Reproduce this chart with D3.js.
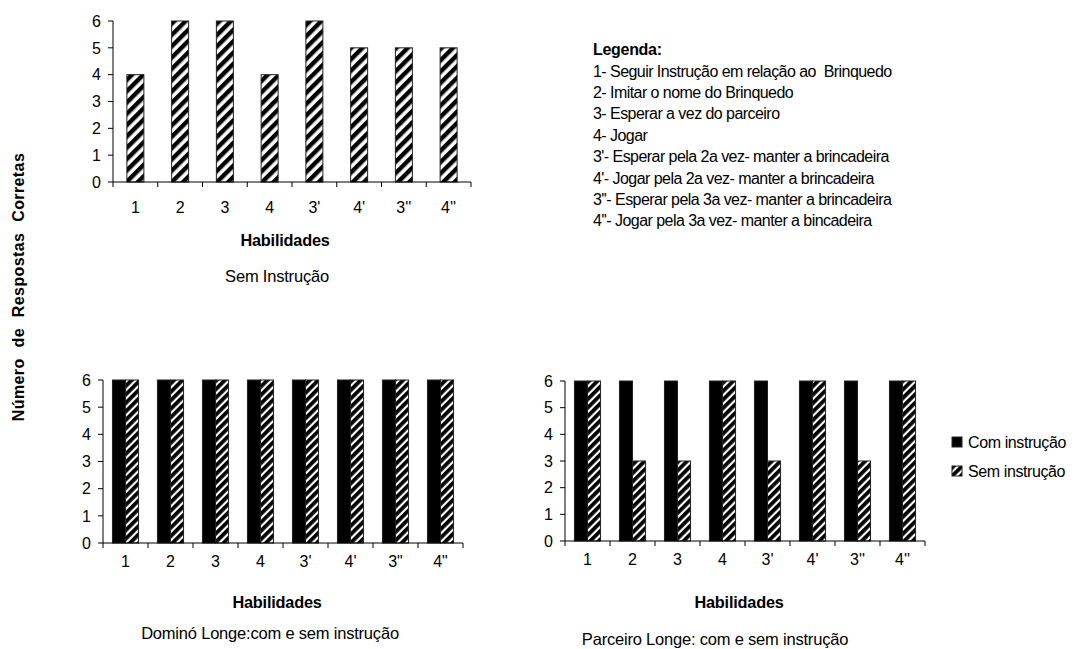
<!DOCTYPE html>
<html><head><meta charset="utf-8">
<script src="https://cdn.jsdelivr.net/npm/d3@7"></script>
<style>
html,body{margin:0;padding:0;background:#fff;}
text{font-family:"Liberation Sans",Arial,sans-serif;fill:#000;}
</style></head>
<body><svg id="c" width="1080" height="649"></svg>
<script>
const categories = ["1","2","3","4","3'","4'","3''","4''"];
const categoriesDomino = ["1","2","3","4","3'","4'","3\"","4\""];
const semInstrucaoTop = [4,6,6,4,6,5,5,5];
const dominoCom = [6,6,6,6,6,6,6,6];
const dominoSem = [6,6,6,6,6,6,6,6];
const parceiroCom = [6,6,6,6,6,6,6,6];
const parceiroSem = [6,3,3,6,3,6,3,6];
const yTicks = [0,1,2,3,4,5,6];
const legendaLines = [
 "1- Seguir Instrução em relação ao  Brinquedo",
 "2- Imitar o nome do Brinquedo",
 "3- Esperar a vez do parceiro",
 "4- Jogar",
 "3'- Esperar pela 2a vez- manter a brincadeira",
 "4'- Jogar pela 2a vez- manter a brincadeira",
 "3''- Esperar pela 3a vez- manter a brincadeira",
 "4''- Jogar pela 3a vez- manter a bincadeira"
];
const seriesNames = ["Com instrução","Sem instrução"];

const svg = d3.select("#c");
const defs = svg.append("defs");
function hatch(id, period, black){
  const p = defs.append("pattern").attr("id",id).attr("patternUnits","userSpaceOnUse")
    .attr("width",period).attr("height",period).attr("patternTransform","rotate(45)");
  p.append("rect").attr("width",period).attr("height",period).attr("fill","#fff");
  p.append("rect").attr("width",black).attr("height",period).attr("fill","#000");
}
hatch("hTop", 8, 4.4);
hatch("hBot", 6, 3.8);

function axes(g, x, y, x0, x1, labels, labOff){
  g.append("line").attr("x1",x0).attr("x2",x0).attr("y1",y(0)).attr("y2",y(6)).attr("stroke","#000");
  yTicks.forEach(t=>{
    g.append("line").attr("x1",x0-5).attr("x2",x0).attr("y1",y(t)).attr("y2",y(t)).attr("stroke","#000");
    g.append("text").attr("x",x0-12).attr("y",y(t)).attr("dy","0.36em").attr("text-anchor","end")
      .attr("font-size",16).text(t);
  });
  g.append("line").attr("x1",x0).attr("x2",x1).attr("y1",y(0)).attr("y2",y(0)).attr("stroke","#000");
  const step = x.step();
  for(let i=0;i<=labels.length;i++){
    const xx = x0 + i*step;
    g.append("line").attr("x1",xx).attr("x2",xx).attr("y1",y(0)).attr("y2",y(0)+5).attr("stroke","#000");
  }
  labels.forEach((c,i)=>{
    g.append("text").attr("x",x(categories[i])+x.bandwidth()/2).attr("y",y(0)+labOff)
      .attr("text-anchor","middle").attr("font-size",16).text(c);
  });
}

// Top chart
{
  const g = svg.append("g");
  const x = d3.scaleBand().domain(categories).range([113,471]).paddingInner(0.62).paddingOuter(0.31);
  const y = d3.scaleLinear().domain([0,6]).range([182,21]);
  g.selectAll("rect.b").data(semInstrucaoTop).join("rect")
    .attr("x",(d,i)=>x(categories[i])).attr("width",x.bandwidth())
    .attr("y",d=>y(d)).attr("height",d=>y(0)-y(d))
    .attr("fill","url(#hTop)").attr("stroke","#222").attr("stroke-width",1);
  axes(g,x,y,113,471,categories,31);
  g.append("text").attr("x",285).attr("y",246).attr("text-anchor","middle").attr("font-size",16.3)
    .attr("font-weight","bold").attr("letter-spacing",-0.2).text("Habilidades");
  g.append("text").attr("x",277).attr("y",282).attr("text-anchor","middle").attr("font-size",16.5)
    .attr("letter-spacing",-0.2).text("Sem Instrução");
}

function grouped(x0, x1, yBottom, yTop, com, sem, labels, sub, subX, subY){
  const g = svg.append("g");
  const x = d3.scaleBand().domain(categories).range([x0,x1]).paddingInner(0.42).paddingOuter(0.21);
  const xs = d3.scaleBand().domain(seriesNames).range([0,x.bandwidth()]);
  const y = d3.scaleLinear().domain([0,6]).range([yBottom,yTop]);
  [com,sem].forEach((arr,k)=>{
    g.selectAll("rect.s"+k).data(arr).join("rect")
      .attr("x",(d,i)=>x(categories[i])+xs(seriesNames[k])).attr("width",xs.bandwidth())
      .attr("y",d=>y(d)).attr("height",d=>y(0)-y(d))
      .attr("fill",k===0?"#000":"url(#hBot)").attr("stroke","#222").attr("stroke-width",1);
  });
  axes(g,x,y,x0,x1,labels,24);
  const cx = (x0+x1)/2;
  g.append("text").attr("x",cx-6).attr("y",608).attr("text-anchor","middle").attr("font-size",16.3)
    .attr("font-weight","bold").attr("letter-spacing",-0.2).text("Habilidades");
  g.append("text").attr("x",subX).attr("y",subY).attr("text-anchor","middle").attr("font-size",16.5)
    .attr("letter-spacing",-0.2).text(sub);
}
grouped(103,463,543,380,dominoCom,dominoSem,categoriesDomino,"Dominó Longe:com e sem instrução",270,639);
grouped(565,925,541,381,parceiroCom,parceiroSem,categories,"Parceiro Longe: com e sem instrução",715,645);

// Legenda
{
  const g = svg.append("g");
  g.append("text").attr("x",593).attr("y",55).attr("font-size",16).attr("font-weight","bold")
    .attr("letter-spacing",-0.3).text("Legenda:");
  legendaLines.forEach((t,i)=>{
    g.append("text").attr("x",593).attr("y",76.5+i*21.4).attr("font-size",16)
      .attr("letter-spacing",-0.55).attr("xml:space","preserve").style("white-space","pre").text(t);
  });
}
// Series legend
{
  const g = svg.append("g");
  seriesNames.forEach((s,i)=>{
    g.append("rect").attr("x",952).attr("y",437+i*29).attr("width",10).attr("height",10)
      .attr("fill",i===0?"#000":"url(#hBot)").attr("stroke","#222");
    g.append("text").attr("x",968).attr("y",448+i*29).attr("font-size",16)
      .attr("letter-spacing",-0.4).text(s);
  });
}
// Y title
svg.append("text").attr("transform","translate(24,287) rotate(-90)").attr("text-anchor","middle")
  .attr("font-size",16).attr("font-weight","bold").attr("letter-spacing",0.4).attr("word-spacing",6)
  .text("Número de Respostas Corretas");
</script></body></html>
